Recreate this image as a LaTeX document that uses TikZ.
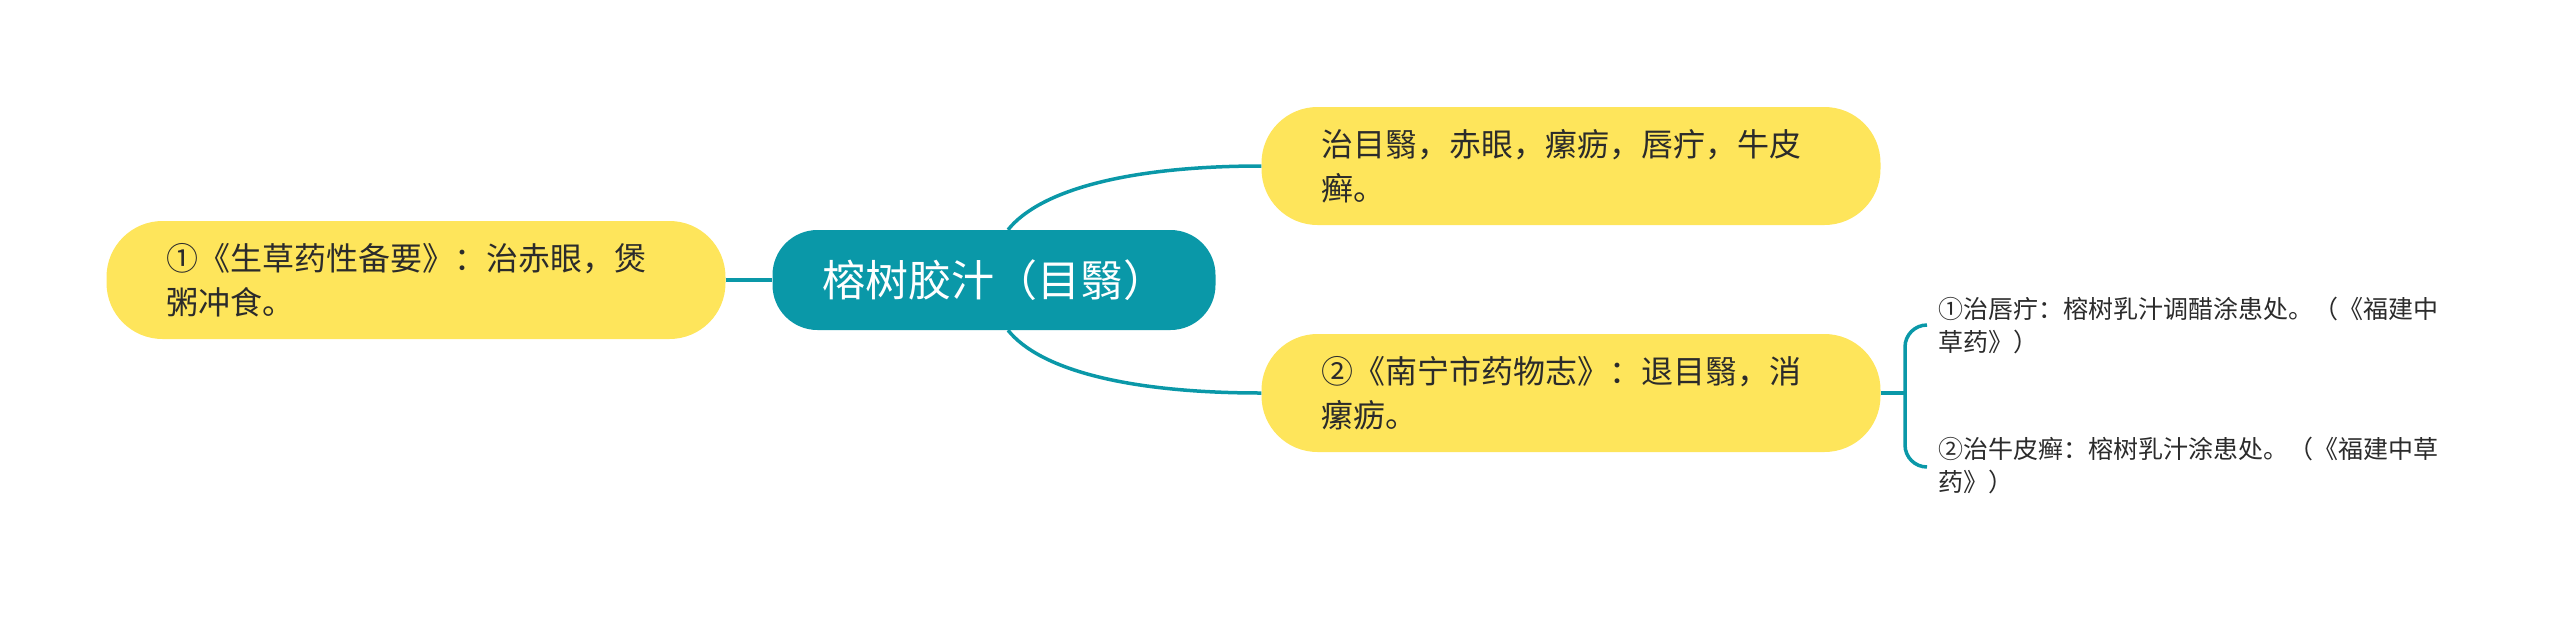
\documentclass[tikz,border=0pt]{standalone}
\usepackage{fontspec}
\setmainfont{Noto Sans CJK SC}
\definecolor{teal0}{HTML}{0A98A8}
\definecolor{yel0}{HTML}{FEE55B}
\definecolor{dark0}{HTML}{2B2B2B}
\begin{document}
\begin{tikzpicture}[x=1pt,y=-1pt,
  yellowbox/.style={fill=yel0, rounded corners=56pt, minimum height=118pt, inner xsep=60pt, inner ysep=0pt, text width=499pt, align=left, font=\fontsize{32}{44}\selectfont, text=dark0},
  centerbox/.style={fill=teal0, rounded corners=45pt, minimum height=100pt, minimum width=443pt, inner sep=0pt, align=center, font=\fontsize{43}{50}\selectfont, text=white},
  smalltext/.style={anchor=west, inner sep=0pt, align=left, font=\fontsize{25}{33}\selectfont, text=dark0},
  conn/.style={draw=teal0, line width=3.5pt}]
\useasboundingbox (0,0) rectangle (2560,619);
\node[centerbox] (c) at (994,280) {榕树胶汁（目翳）};
\node[yellowbox] (l) at (416,280) {①《生草药性备要》：治赤眼，煲\\粥冲食。};
\node[yellowbox] (tr) at (1571,166) {治目翳，赤眼，瘰疬，唇疔，牛皮\\癣。};
\node[yellowbox] (br) at (1571,393) {②《南宁市药物志》：退目翳，消\\瘰疬。};
\node[smalltext] (s1) at (1938,325) {①治唇疔：榕树乳汁调醋涂患处。（《福建中\\草药》）};
\node[smalltext] (s2) at (1938,465) {②治牛皮癣：榕树乳汁涂患处。（《福建中草\\药》）};
\coordinate (bt) at (1927,325);
\coordinate (bb) at (1927,467);
\coordinate (bm) at (1905,393);
\draw[conn] (l.east) -- (c.west);
\draw[conn] ([xshift=14pt]c.north) .. controls +(32,-40) and +(-132,0) .. (tr.west);
\draw[conn] ([xshift=14pt]c.south) .. controls +(32,40) and +(-132,0) .. (br.west);
\draw[conn] (br.east) -- (bm);
\draw[conn, rounded corners=22pt] (bt) -| (bm) |- (bb);
\end{tikzpicture}
\end{document}
